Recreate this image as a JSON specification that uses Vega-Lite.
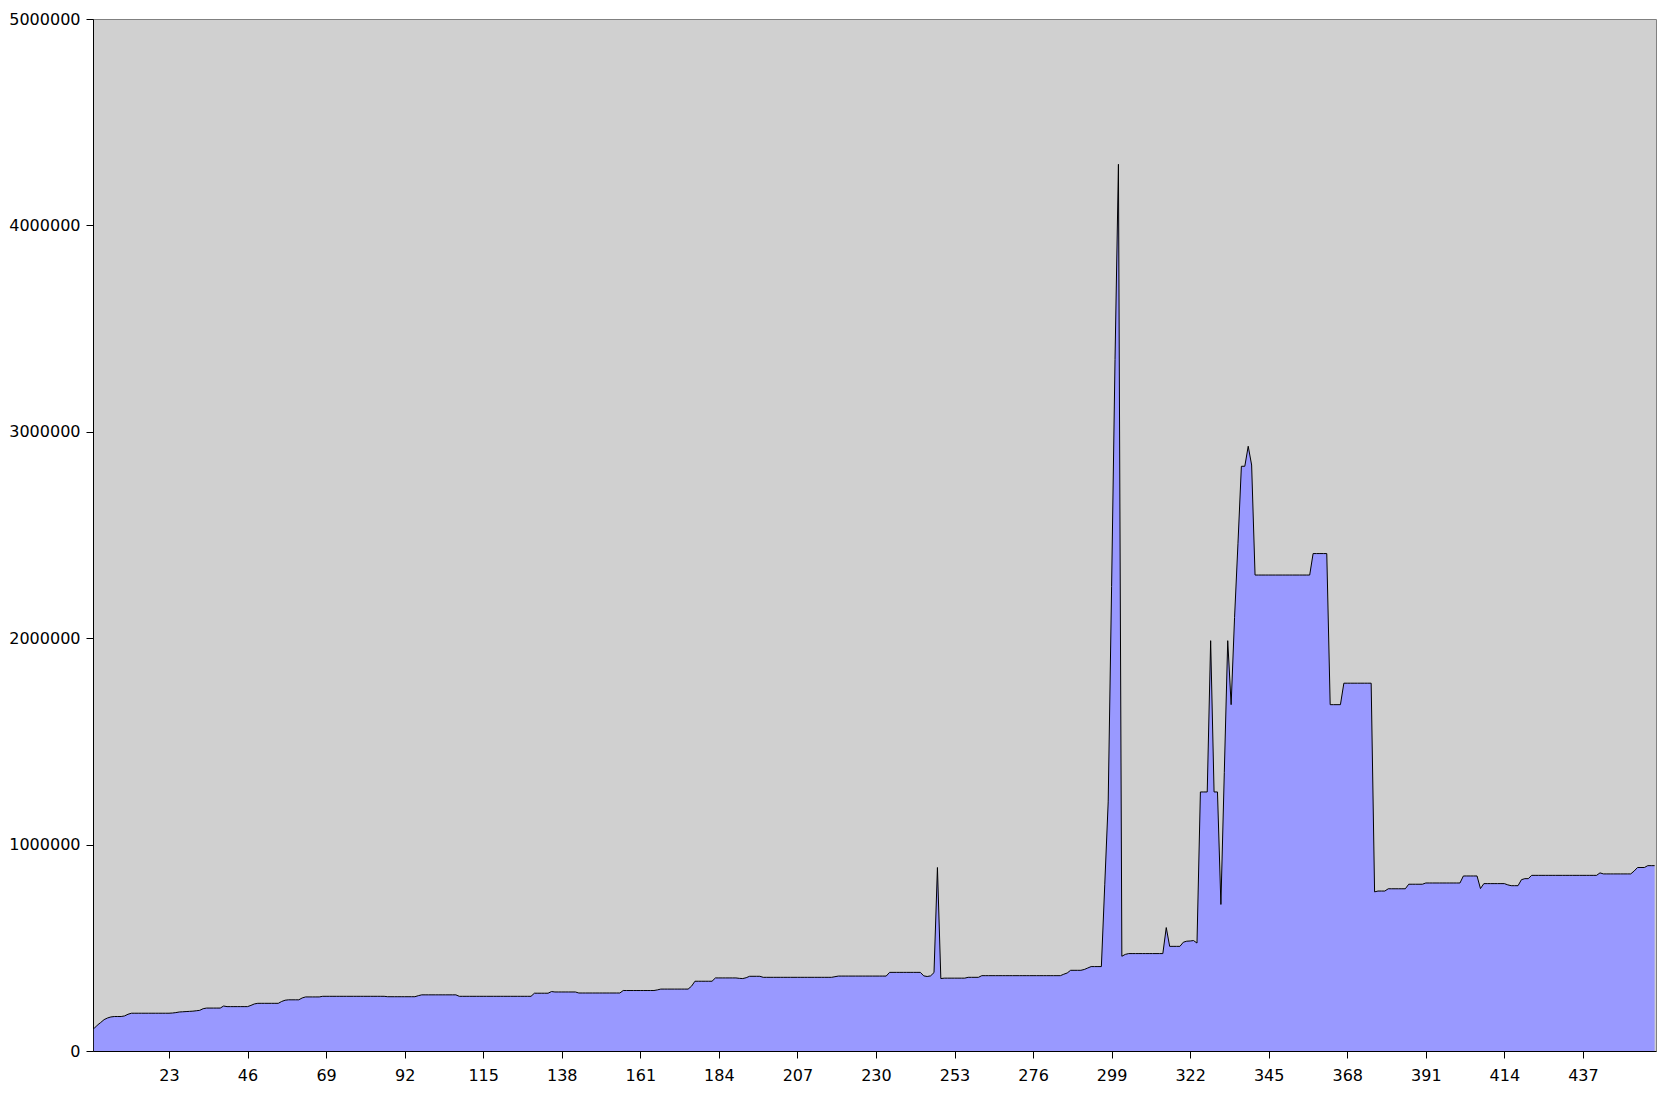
{
  "$schema": "https://vega.github.io/schema/vega-lite/v6.json",
  "width": 1563,
  "height": 1032,
  "autosize": {"type": "none"},
  "padding": {"left": 93, "top": 19, "right": 8, "bottom": 42},
  "background": "white",
  "config": {
    "view": {"fill": "#d0d0d0", "stroke": "#808080", "strokeWidth": 1},
    "axis": {
      "labelFont": "DejaVu Sans",
      "labelFontSize": 16,
      "labelColor": "black",
      "domainColor": "black",
      "tickColor": "black",
      "tickSize": 7,
      "grid": false,
      "title": null
    }
  },
  "data": {"values": [
{"i":1,"v":108000},{"i":2,"v":125000},{"i":3,"v":138000},{"i":4,"v":152000},{"i":5,"v":160000},{"i":6,"v":165000},{"i":7,"v":167000},{"i":8,"v":167000},{"i":9,"v":167000},{"i":10,"v":170000},
{"i":11,"v":178000},{"i":12,"v":183000},{"i":13,"v":183000},{"i":14,"v":183000},{"i":15,"v":183000},{"i":16,"v":183000},{"i":17,"v":183000},{"i":18,"v":183000},{"i":19,"v":183000},{"i":20,"v":183000},
{"i":21,"v":183000},{"i":22,"v":183000},{"i":23,"v":183000},{"i":24,"v":184000},{"i":25,"v":186000},{"i":26,"v":189000},{"i":27,"v":190000},{"i":28,"v":191000},{"i":29,"v":192000},{"i":30,"v":193000},
{"i":31,"v":195000},{"i":32,"v":197000},{"i":33,"v":205000},{"i":34,"v":208000},{"i":35,"v":208000},{"i":36,"v":208000},{"i":37,"v":208000},{"i":38,"v":208000},{"i":39,"v":218000},{"i":40,"v":215000},
{"i":41,"v":215000},{"i":42,"v":215000},{"i":43,"v":215000},{"i":44,"v":215000},{"i":45,"v":215000},{"i":46,"v":215000},{"i":47,"v":221000},{"i":48,"v":228000},{"i":49,"v":231000},{"i":50,"v":231000},
{"i":51,"v":231000},{"i":52,"v":231000},{"i":53,"v":231000},{"i":54,"v":231000},{"i":55,"v":231000},{"i":56,"v":240000},{"i":57,"v":246000},{"i":58,"v":248000},{"i":59,"v":248000},{"i":60,"v":248000},
{"i":61,"v":248000},{"i":62,"v":257000},{"i":63,"v":262000},{"i":64,"v":262000},{"i":65,"v":262000},{"i":66,"v":262000},{"i":67,"v":262000},{"i":68,"v":265000},{"i":69,"v":265000},{"i":70,"v":265000},
{"i":71,"v":265000},{"i":72,"v":265000},{"i":73,"v":265000},{"i":74,"v":265000},{"i":75,"v":265000},{"i":76,"v":265000},{"i":77,"v":265000},{"i":78,"v":265000},{"i":79,"v":265000},{"i":80,"v":265000},
{"i":81,"v":265000},{"i":82,"v":265000},{"i":83,"v":265000},{"i":84,"v":265000},{"i":85,"v":265000},{"i":86,"v":265000},{"i":87,"v":263000},{"i":88,"v":263000},{"i":89,"v":263000},{"i":90,"v":263000},
{"i":91,"v":263000},{"i":92,"v":263000},{"i":93,"v":263000},{"i":94,"v":263000},{"i":95,"v":263000},{"i":96,"v":268000},{"i":97,"v":272000},{"i":98,"v":272000},{"i":99,"v":272000},{"i":100,"v":272000},
{"i":101,"v":272000},{"i":102,"v":272000},{"i":103,"v":272000},{"i":104,"v":272000},{"i":105,"v":272000},{"i":106,"v":272000},{"i":107,"v":272000},{"i":108,"v":265000},{"i":109,"v":265000},{"i":110,"v":265000},
{"i":111,"v":265000},{"i":112,"v":265000},{"i":113,"v":265000},{"i":114,"v":265000},{"i":115,"v":265000},{"i":116,"v":265000},{"i":117,"v":265000},{"i":118,"v":265000},{"i":119,"v":265000},{"i":120,"v":265000},
{"i":121,"v":265000},{"i":122,"v":265000},{"i":123,"v":265000},{"i":124,"v":265000},{"i":125,"v":265000},{"i":126,"v":265000},{"i":127,"v":265000},{"i":128,"v":265000},{"i":129,"v":265000},{"i":130,"v":280000},
{"i":131,"v":280000},{"i":132,"v":280000},{"i":133,"v":280000},{"i":134,"v":280000},{"i":135,"v":288000},{"i":136,"v":286000},{"i":137,"v":286000},{"i":138,"v":286000},{"i":139,"v":286000},{"i":140,"v":286000},
{"i":141,"v":286000},{"i":142,"v":286000},{"i":143,"v":281000},{"i":144,"v":281000},{"i":145,"v":281000},{"i":146,"v":281000},{"i":147,"v":281000},{"i":148,"v":281000},{"i":149,"v":281000},{"i":150,"v":281000},
{"i":151,"v":281000},{"i":152,"v":281000},{"i":153,"v":281000},{"i":154,"v":281000},{"i":155,"v":281000},{"i":156,"v":293000},{"i":157,"v":293000},{"i":158,"v":293000},{"i":159,"v":293000},{"i":160,"v":293000},
{"i":161,"v":293000},{"i":162,"v":293000},{"i":163,"v":293000},{"i":164,"v":293000},{"i":165,"v":293000},{"i":166,"v":296000},{"i":167,"v":300000},{"i":168,"v":300000},{"i":169,"v":300000},{"i":170,"v":300000},
{"i":171,"v":300000},{"i":172,"v":300000},{"i":173,"v":300000},{"i":174,"v":300000},{"i":175,"v":300000},{"i":176,"v":314000},{"i":177,"v":338000},{"i":178,"v":338000},{"i":179,"v":338000},{"i":180,"v":338000},
{"i":181,"v":338000},{"i":182,"v":338000},{"i":183,"v":354000},{"i":184,"v":354000},{"i":185,"v":354000},{"i":186,"v":354000},{"i":187,"v":354000},{"i":188,"v":354000},{"i":189,"v":354000},{"i":190,"v":352000},
{"i":191,"v":351000},{"i":192,"v":355000},{"i":193,"v":362000},{"i":194,"v":362000},{"i":195,"v":362000},{"i":196,"v":362000},{"i":197,"v":357000},{"i":198,"v":357000},{"i":199,"v":357000},{"i":200,"v":357000},
{"i":201,"v":357000},{"i":202,"v":357000},{"i":203,"v":357000},{"i":204,"v":357000},{"i":205,"v":357000},{"i":206,"v":357000},{"i":207,"v":357000},{"i":208,"v":357000},{"i":209,"v":357000},{"i":210,"v":357000},
{"i":211,"v":357000},{"i":212,"v":357000},{"i":213,"v":357000},{"i":214,"v":357000},{"i":215,"v":357000},{"i":216,"v":357000},{"i":217,"v":357000},{"i":218,"v":360000},{"i":219,"v":363000},{"i":220,"v":363000},
{"i":221,"v":363000},{"i":222,"v":363000},{"i":223,"v":363000},{"i":224,"v":363000},{"i":225,"v":363000},{"i":226,"v":363000},{"i":227,"v":363000},{"i":228,"v":363000},{"i":229,"v":363000},{"i":230,"v":363000},
{"i":231,"v":363000},{"i":232,"v":363000},{"i":233,"v":363000},{"i":234,"v":381000},{"i":235,"v":381000},{"i":236,"v":381000},{"i":237,"v":381000},{"i":238,"v":381000},{"i":239,"v":381000},{"i":240,"v":381000},
{"i":241,"v":381000},{"i":242,"v":381000},{"i":243,"v":381000},{"i":244,"v":364000},{"i":245,"v":361000},{"i":246,"v":364000},{"i":247,"v":380000},{"i":248,"v":889000},{"i":249,"v":351000},{"i":250,"v":353000},
{"i":251,"v":353000},{"i":252,"v":353000},{"i":253,"v":353000},{"i":254,"v":353000},{"i":255,"v":353000},{"i":256,"v":353000},{"i":257,"v":357000},{"i":258,"v":357000},{"i":259,"v":357000},{"i":260,"v":357000},
{"i":261,"v":365000},{"i":262,"v":365000},{"i":263,"v":365000},{"i":264,"v":365000},{"i":265,"v":365000},{"i":266,"v":365000},{"i":267,"v":365000},{"i":268,"v":365000},{"i":269,"v":365000},{"i":270,"v":365000},
{"i":271,"v":365000},{"i":272,"v":365000},{"i":273,"v":365000},{"i":274,"v":365000},{"i":275,"v":365000},{"i":276,"v":365000},{"i":277,"v":365000},{"i":278,"v":365000},{"i":279,"v":365000},{"i":280,"v":365000},
{"i":281,"v":365000},{"i":282,"v":365000},{"i":283,"v":365000},{"i":284,"v":365000},{"i":285,"v":372000},{"i":286,"v":378000},{"i":287,"v":391000},{"i":288,"v":391000},{"i":289,"v":391000},{"i":290,"v":391000},
{"i":291,"v":395000},{"i":292,"v":402000},{"i":293,"v":409000},{"i":294,"v":409000},{"i":295,"v":409000},{"i":296,"v":409000},{"i":297,"v":808000},{"i":298,"v":1207000},{"i":299,"v":2250000},{"i":300,"v":3350000},
{"i":301,"v":4296000},{"i":302,"v":459000},{"i":303,"v":468000},{"i":304,"v":472000},{"i":305,"v":472000},{"i":306,"v":472000},{"i":307,"v":472000},{"i":308,"v":472000},{"i":309,"v":472000},{"i":310,"v":472000},
{"i":311,"v":472000},{"i":312,"v":472000},{"i":313,"v":472000},{"i":314,"v":472000},{"i":315,"v":598000},{"i":316,"v":507000},{"i":317,"v":507000},{"i":318,"v":507000},{"i":319,"v":507000},{"i":320,"v":527000},
{"i":321,"v":532000},{"i":322,"v":533000},{"i":323,"v":535000},{"i":324,"v":523000},{"i":325,"v":1255000},{"i":326,"v":1255000},{"i":327,"v":1255000},{"i":328,"v":1988000},{"i":329,"v":1255000},{"i":330,"v":1255000},
{"i":331,"v":710000},{"i":332,"v":1350000},{"i":333,"v":1988000},{"i":334,"v":1678000},{"i":335,"v":2100000},{"i":336,"v":2460000},{"i":337,"v":2833000},{"i":338,"v":2833000},{"i":339,"v":2930000},{"i":340,"v":2839000},
{"i":341,"v":2306000},{"i":342,"v":2306000},{"i":343,"v":2306000},{"i":344,"v":2306000},{"i":345,"v":2306000},{"i":346,"v":2306000},{"i":347,"v":2306000},{"i":348,"v":2306000},{"i":349,"v":2306000},{"i":350,"v":2306000},
{"i":351,"v":2306000},{"i":352,"v":2306000},{"i":353,"v":2306000},{"i":354,"v":2306000},{"i":355,"v":2306000},{"i":356,"v":2306000},{"i":357,"v":2306000},{"i":358,"v":2410000},{"i":359,"v":2410000},{"i":360,"v":2410000},
{"i":361,"v":2410000},{"i":362,"v":2410000},{"i":363,"v":1678000},{"i":364,"v":1678000},{"i":365,"v":1678000},{"i":366,"v":1678000},{"i":367,"v":1782000},{"i":368,"v":1782000},{"i":369,"v":1782000},{"i":370,"v":1782000},
{"i":371,"v":1782000},{"i":372,"v":1782000},{"i":373,"v":1782000},{"i":374,"v":1782000},{"i":375,"v":1782000},{"i":376,"v":771000},{"i":377,"v":775000},{"i":378,"v":775000},{"i":379,"v":775000},{"i":380,"v":786000},
{"i":381,"v":786000},{"i":382,"v":786000},{"i":383,"v":786000},{"i":384,"v":786000},{"i":385,"v":786000},{"i":386,"v":808000},{"i":387,"v":808000},{"i":388,"v":808000},{"i":389,"v":808000},{"i":390,"v":808000},
{"i":391,"v":814000},{"i":392,"v":814000},{"i":393,"v":814000},{"i":394,"v":814000},{"i":395,"v":814000},{"i":396,"v":814000},{"i":397,"v":814000},{"i":398,"v":814000},{"i":399,"v":814000},{"i":400,"v":814000},
{"i":401,"v":814000},{"i":402,"v":848000},{"i":403,"v":848000},{"i":404,"v":848000},{"i":405,"v":848000},{"i":406,"v":848000},{"i":407,"v":787000},{"i":408,"v":811000},{"i":409,"v":811000},{"i":410,"v":811000},
{"i":411,"v":811000},{"i":412,"v":811000},{"i":413,"v":811000},{"i":414,"v":811000},{"i":415,"v":805000},{"i":416,"v":801000},{"i":417,"v":801000},{"i":418,"v":801000},{"i":419,"v":830000},{"i":420,"v":835000},
{"i":421,"v":835000},{"i":422,"v":851000},{"i":423,"v":851000},{"i":424,"v":851000},{"i":425,"v":851000},{"i":426,"v":851000},{"i":427,"v":851000},{"i":428,"v":851000},{"i":429,"v":851000},{"i":430,"v":851000},
{"i":431,"v":851000},{"i":432,"v":851000},{"i":433,"v":851000},{"i":434,"v":851000},{"i":435,"v":851000},{"i":436,"v":851000},{"i":437,"v":851000},{"i":438,"v":851000},{"i":439,"v":851000},{"i":440,"v":851000},
{"i":441,"v":851000},{"i":442,"v":863000},{"i":443,"v":858000},{"i":444,"v":858000},{"i":445,"v":858000},{"i":446,"v":858000},{"i":447,"v":858000},{"i":448,"v":858000},{"i":449,"v":858000},{"i":450,"v":858000},
{"i":451,"v":858000},{"i":452,"v":872000},{"i":453,"v":889000},{"i":454,"v":889000},{"i":455,"v":889000},{"i":456,"v":898000},{"i":457,"v":898000},{"i":458,"v":898000}
  ]},
  "encoding": {
    "x": {
      "field": "i", "type": "quantitative",
      "scale": {"domain": [0.75, 458.4], "nice": false, "zero": false},
      "axis": {"values": [23,46,69,92,115,138,161,184,207,230,253,276,299,322,345,368,391,414,437], "labelPadding": 9, "labelFlush": false, "labelOverlap": false}
    },
    "y": {
      "field": "v", "type": "quantitative",
      "scale": {"domain": [0, 5000000], "nice": false},
      "axis": {"values": [0,1000000,2000000,3000000,4000000,5000000], "format": "d", "labelPadding": 6, "labelFlush": false, "labelOverlap": false}
    }
  },
  "layer": [
    {"mark": {"type": "area", "color": "#9999ff", "opacity": 1, "interpolate": "linear"}},
    {"mark": {"type": "line", "color": "black", "strokeWidth": 1, "interpolate": "linear"}}
  ]
}
